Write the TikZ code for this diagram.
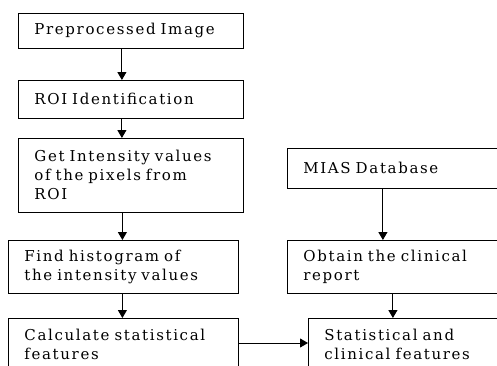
\documentclass[tikz,border=0pt]{standalone}
\usepackage{fontspec}
\setmainfont{DejaVu Serif}[LetterSpace=11, WordSpace=1.6]
\usepackage{tikz}
\usetikzlibrary{arrows.meta}

\begin{document}
\begin{tikzpicture}[
  x=1pt, y=-1pt,
  >={Triangle[width=9pt,length=8pt]},
  stage/.style={draw, line width=0.8pt, anchor=north west, align=left,
    inner xsep=16pt, inner ysep=0pt, font=\fontsize{15}{19}\selectfont},
  flow/.style={->, line width=1pt},
]
  \useasboundingbox (0,0) rectangle (497,365);
  % left column
  \node[stage, text width=193pt, minimum height=35pt] (pre) at (18,13) {Preprocessed Image};
  \node[stage, text width=193pt, minimum height=38pt] (roi) at (18,80) {ROI Identification};
  \node[stage, text width=193pt, minimum height=74pt] (intens) at (18,138)
    {Get Intensity values\\of the pixels from\\ROI};
  \node[stage, text width=198pt, minimum height=53pt] (hist) at (8,240)
    {Find histogram of\\the intensity values};
  \node[stage, text width=198pt, minimum height=52pt] (calc) at (8,318)
    {Calculate statistical\\features};
  % right column
  \node[stage, text width=191pt, minimum height=40pt] (mias) at (287,148) {MIAS Database};
  \node[stage, text width=191pt, minimum height=53pt] (clin) at (287,240)
    {Obtain the clinical\\report};
  \node[stage, text width=170pt, minimum height=52pt] (feat) at (308,318)
    {Statistical and\\clinical features};
  % connectors
  \draw[flow] ([xshift=-9pt]pre.south) -- ([xshift=-9pt]roi.north);
  \draw[flow] ([xshift=-9pt]roi.south) -- ([xshift=-9pt]intens.north);
  \draw[flow] ([xshift=-1pt]hist.north |- intens.south) -- ([xshift=-1pt]hist.north);
  \draw[flow] ([xshift=-1pt]hist.south) -- ([xshift=-1pt]calc.north);
  \draw[flow] ([xshift=-16pt]mias.south) -- ([xshift=-16pt]clin.north);
  \draw[flow] ([xshift=-6pt]clin.south) -- ([xshift=-6pt]clin.south |- feat.north);
  \draw[flow] ([yshift=-25pt]calc.north east) -- ([yshift=-25pt]feat.north west);
\end{tikzpicture}
\end{document}
